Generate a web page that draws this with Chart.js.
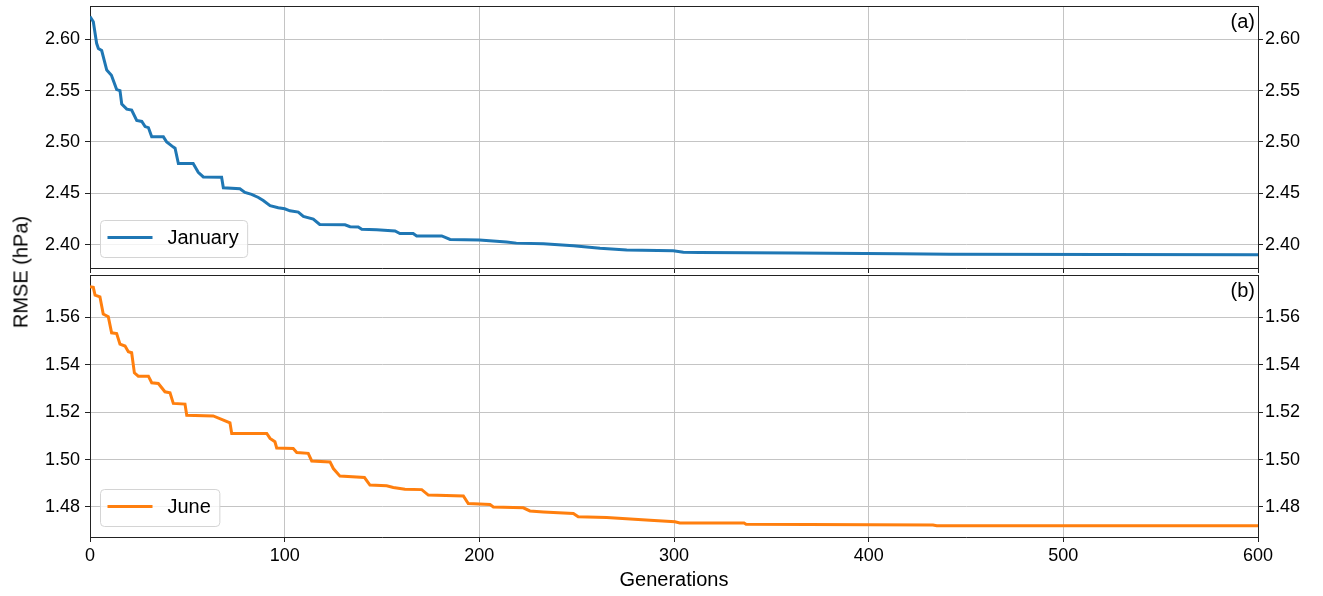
<!DOCTYPE html>
<html lang="en">
<head>
<meta charset="UTF-8">
<title>RMSE per generation</title>
<script src="https://cdn.jsdelivr.net/npm/chart.js"></script>
<style>
  body { margin: 0; background: #fff; }
  #wrap { position: relative; width: 1323px; height: 596px; font-family: "Liberation Sans", Arial, sans-serif; color: #000; }
  #wrap canvas { position: absolute; left: 0; top: 0; }
  .axis_label { position: absolute; font-size: 20px; white-space: nowrap; transform: translate(-50%, -50%); }
  #ylabel { left: 21px; top: 272px; transform: translate(-50%, -50%) rotate(-90deg); }
  #xlabel { left: 674px; top: 579px; }
</style>
</head>
<body>
<div id="wrap">
  <canvas id="chartJan" width="1323" height="596"></canvas>
  <canvas id="chartJun" width="1323" height="596"></canvas>
  <div class="axis_label" id="ylabel">RMSE (hPa)</div>
  <div class="axis_label" id="xlabel">Generations</div>
</div>
<script>
// values (corners of the stepped curves)
const janGen = [0, 1.7, 3.4, 4.3, 6, 8.6, 11, 13.7, 15.4, 16.3, 18.9, 21.4, 24, 26.6, 28.3, 30, 31.7, 37.7,
    39.4, 42.8, 43.7, 45.4, 53, 55.6, 58.2, 67.6, 68.5, 77, 79.6, 83, 86.5, 89, 92.5, 96.7, 100, 102.7,
    107, 109.6, 114.7, 118, 131, 133.6, 137.8, 139.6, 147.3, 156.7, 159.2, 166, 167.8, 180.7, 185, 200,
    214, 219, 232.9, 248.3, 262, 275.7, 299.6, 304.8, 313, 362, 416, 442, 600];
const janRmse = [2.622, 2.617, 2.596, 2.591, 2.589, 2.570, 2.565, 2.551, 2.550, 2.537, 2.532, 2.531, 2.521,
    2.520, 2.515, 2.514, 2.505, 2.505, 2.500, 2.495, 2.494, 2.479, 2.479, 2.4705, 2.466, 2.4657, 2.4555,
    2.4545, 2.451, 2.449, 2.446, 2.443, 2.438, 2.436, 2.435, 2.433, 2.4318, 2.4275, 2.425, 2.4198, 2.4195,
    2.4176, 2.4172, 2.415, 2.4145, 2.4135, 2.411, 2.411, 2.4086, 2.4086, 2.4052, 2.4046, 2.4028, 2.4016,
    2.4009, 2.399, 2.3966, 2.3948, 2.3941, 2.3927, 2.3926, 2.392, 2.3912, 2.3907, 2.3903];

const junGen = [0, 1.7, 2.6, 5.1, 6.8, 9.4, 11.1, 13.7, 15.4, 18, 19.7, 21.4, 22.8, 24.8, 30, 31.7, 35.1,
    38.5, 41.1, 42.8, 48.8, 49.7, 63.3, 67.6, 71.9, 72.8, 90.8, 92.5, 95, 95.9, 104.4, 106.2, 112.1, 113.9,
    123.3, 125, 128.4, 141, 143.8, 152.4, 155.8, 161.8, 170.4, 173.8, 191.8, 194.3, 205.5, 207.2, 222.6,
    226, 232.9, 248.3, 250.8, 265.4, 287.7, 300.5, 303, 336, 337, 433, 435, 600];
const junRmse = [1.5729, 1.5727, 1.5694, 1.5687, 1.5614, 1.5603, 1.5535, 1.5532, 1.5487, 1.5479, 1.5455,
    1.5451, 1.5366, 1.5352, 1.5352, 1.5324, 1.5321, 1.5286, 1.5282, 1.5237, 1.5234, 1.5187, 1.5184, 1.517,
    1.5155, 1.511, 1.511, 1.5089, 1.5075, 1.5049, 1.5047, 1.503, 1.5026, 1.4994, 1.499, 1.4962, 1.493,
    1.4924, 1.4892, 1.4889, 1.4882, 1.4875, 1.4873, 1.485, 1.4846, 1.4814, 1.481, 1.48, 1.4796, 1.4783,
    1.4779, 1.4772, 1.4758, 1.4755, 1.4744, 1.4737, 1.4732, 1.4732, 1.4727, 1.4724, 1.4721, 1.472];

const xTicks = [0, 100, 200, 300, 400, 500, 600];
const janTicks = [2.40, 2.45, 2.50, 2.55, 2.60];
const junTicks = [1.48, 1.50, 1.52, 1.54, 1.56];

const fontFamily = '"Liberation Sans", Arial, sans-serif';
const gridColor = '#c4c4c4';
const spineColor = '#222';

// legend box in lower left corner, panel letter in upper right, top spine
const panelDecor = {
    id: 'panelDecor',
    afterDraw(chart, args, opts) {
        const ctx = chart.ctx;
        const a = chart.chartArea;
        const ds = chart.data.datasets[0];
        ctx.save();
        ctx.strokeStyle = spineColor;
        ctx.lineWidth = 1;
        ctx.beginPath();
        ctx.moveTo(a.left, Math.round(a.top) + 0.5);
        ctx.lineTo(a.right, Math.round(a.top) + 0.5);
        ctx.stroke();

        ctx.font = '20px ' + fontFamily;
        ctx.fillStyle = '#000';
        ctx.textAlign = 'right';
        ctx.textBaseline = 'top';
        ctx.fillText(opts.letter, a.right - 3, a.top + 6);

        const tw = ctx.measureText(ds.label).width;
        const w = 67 + tw + 9, h = 37;
        const x0 = Math.round(a.left + 10) + 0.5;
        const y0 = Math.round(a.bottom - 11 - h) + 0.5;
        ctx.beginPath();
        ctx.roundRect(x0, y0, w, h, 4);
        ctx.fillStyle = 'rgba(255,255,255,0.8)';
        ctx.fill();
        ctx.strokeStyle = '#d4d4d4';
        ctx.stroke();
        const cy = y0 + 17;
        ctx.beginPath();
        ctx.moveTo(x0 + 7, cy);
        ctx.lineTo(x0 + 52, cy);
        ctx.strokeStyle = ds.borderColor;
        ctx.lineWidth = 3;
        ctx.stroke();
        ctx.fillStyle = '#000';
        ctx.textAlign = 'left';
        ctx.textBaseline = 'middle';
        ctx.fillText(ds.label, x0 + 67, cy + 1);
        ctx.restore();
    }
};

function yAxis(min, max, ticks, side) {
    return {
        type: 'linear',
        position: side,
        min: min,
        max: max,
        afterBuildTicks: s => { s.ticks = ticks.map(v => ({ value: v })); },
        afterFit: s => { s.width = side === 'left' ? 90 : 65; s.paddingTop = 0; s.paddingBottom = 0; },
        grid: { color: gridColor, lineWidth: 1, tickLength: 5, tickColor: spineColor, drawOnChartArea: side === 'left' },
        border: { color: spineColor, width: 1 },
        ticks: { color: '#000', font: { family: fontFamily, size: 18 }, padding: side === 'left' ? 5 : 2,
                 callback: v => v.toFixed(2) }
    };
}

function makeChart(id, label, color, gens, vals, yMin, yMax, ticks, letter, showX, pad) {
    return new Chart(id, {
        type: 'line',
        data: {
            datasets: [{
                label: label,
                data: gens.map((g, i) => ({ x: g, y: vals[i] })),
                borderColor: color,
                backgroundColor: color,
                borderWidth: 3,
                pointRadius: 0,
                tension: 0,
                yAxisID: 'y'
            }]
        },
        options: {
            responsive: false,
            animation: false,
            layout: { padding: pad },
            plugins: { legend: { display: false }, tooltip: { enabled: false }, panelDecor: { letter: letter } },
            scales: {
                x: {
                    type: 'linear',
                    min: 0,
                    max: 600,
                    afterBuildTicks: s => { s.ticks = xTicks.map(v => ({ value: v })); },
                    afterFit: s => { s.height = showX ? 59 : 0; s.paddingLeft = 0; s.paddingRight = 0; },
                    grid: { color: gridColor, lineWidth: 1, tickLength: 5, tickColor: spineColor },
                    border: { color: spineColor, width: 1 },
                    ticks: { display: showX, color: '#000', font: { family: fontFamily, size: 18 }, padding: 3, maxRotation: 0 }
                },
                y: yAxis(yMin, yMax, ticks, 'left'),
                y2: yAxis(yMin, yMax, ticks, 'right')
            }
        },
        plugins: [panelDecor]
    });
}

makeChart('chartJan', 'January', '#1f77b4', janGen, janRmse, 2.3774, 2.6323, janTicks, '(a)', false,
    { top: 6, bottom: 328, left: 0, right: 0 });
makeChart('chartJun', 'June', '#ff7f0e', junGen, junRmse, 1.4673, 1.5779, junTicks, '(b)', true,
    { top: 275, bottom: 0, left: 0, right: 0 });
</script>
</body>
</html>
